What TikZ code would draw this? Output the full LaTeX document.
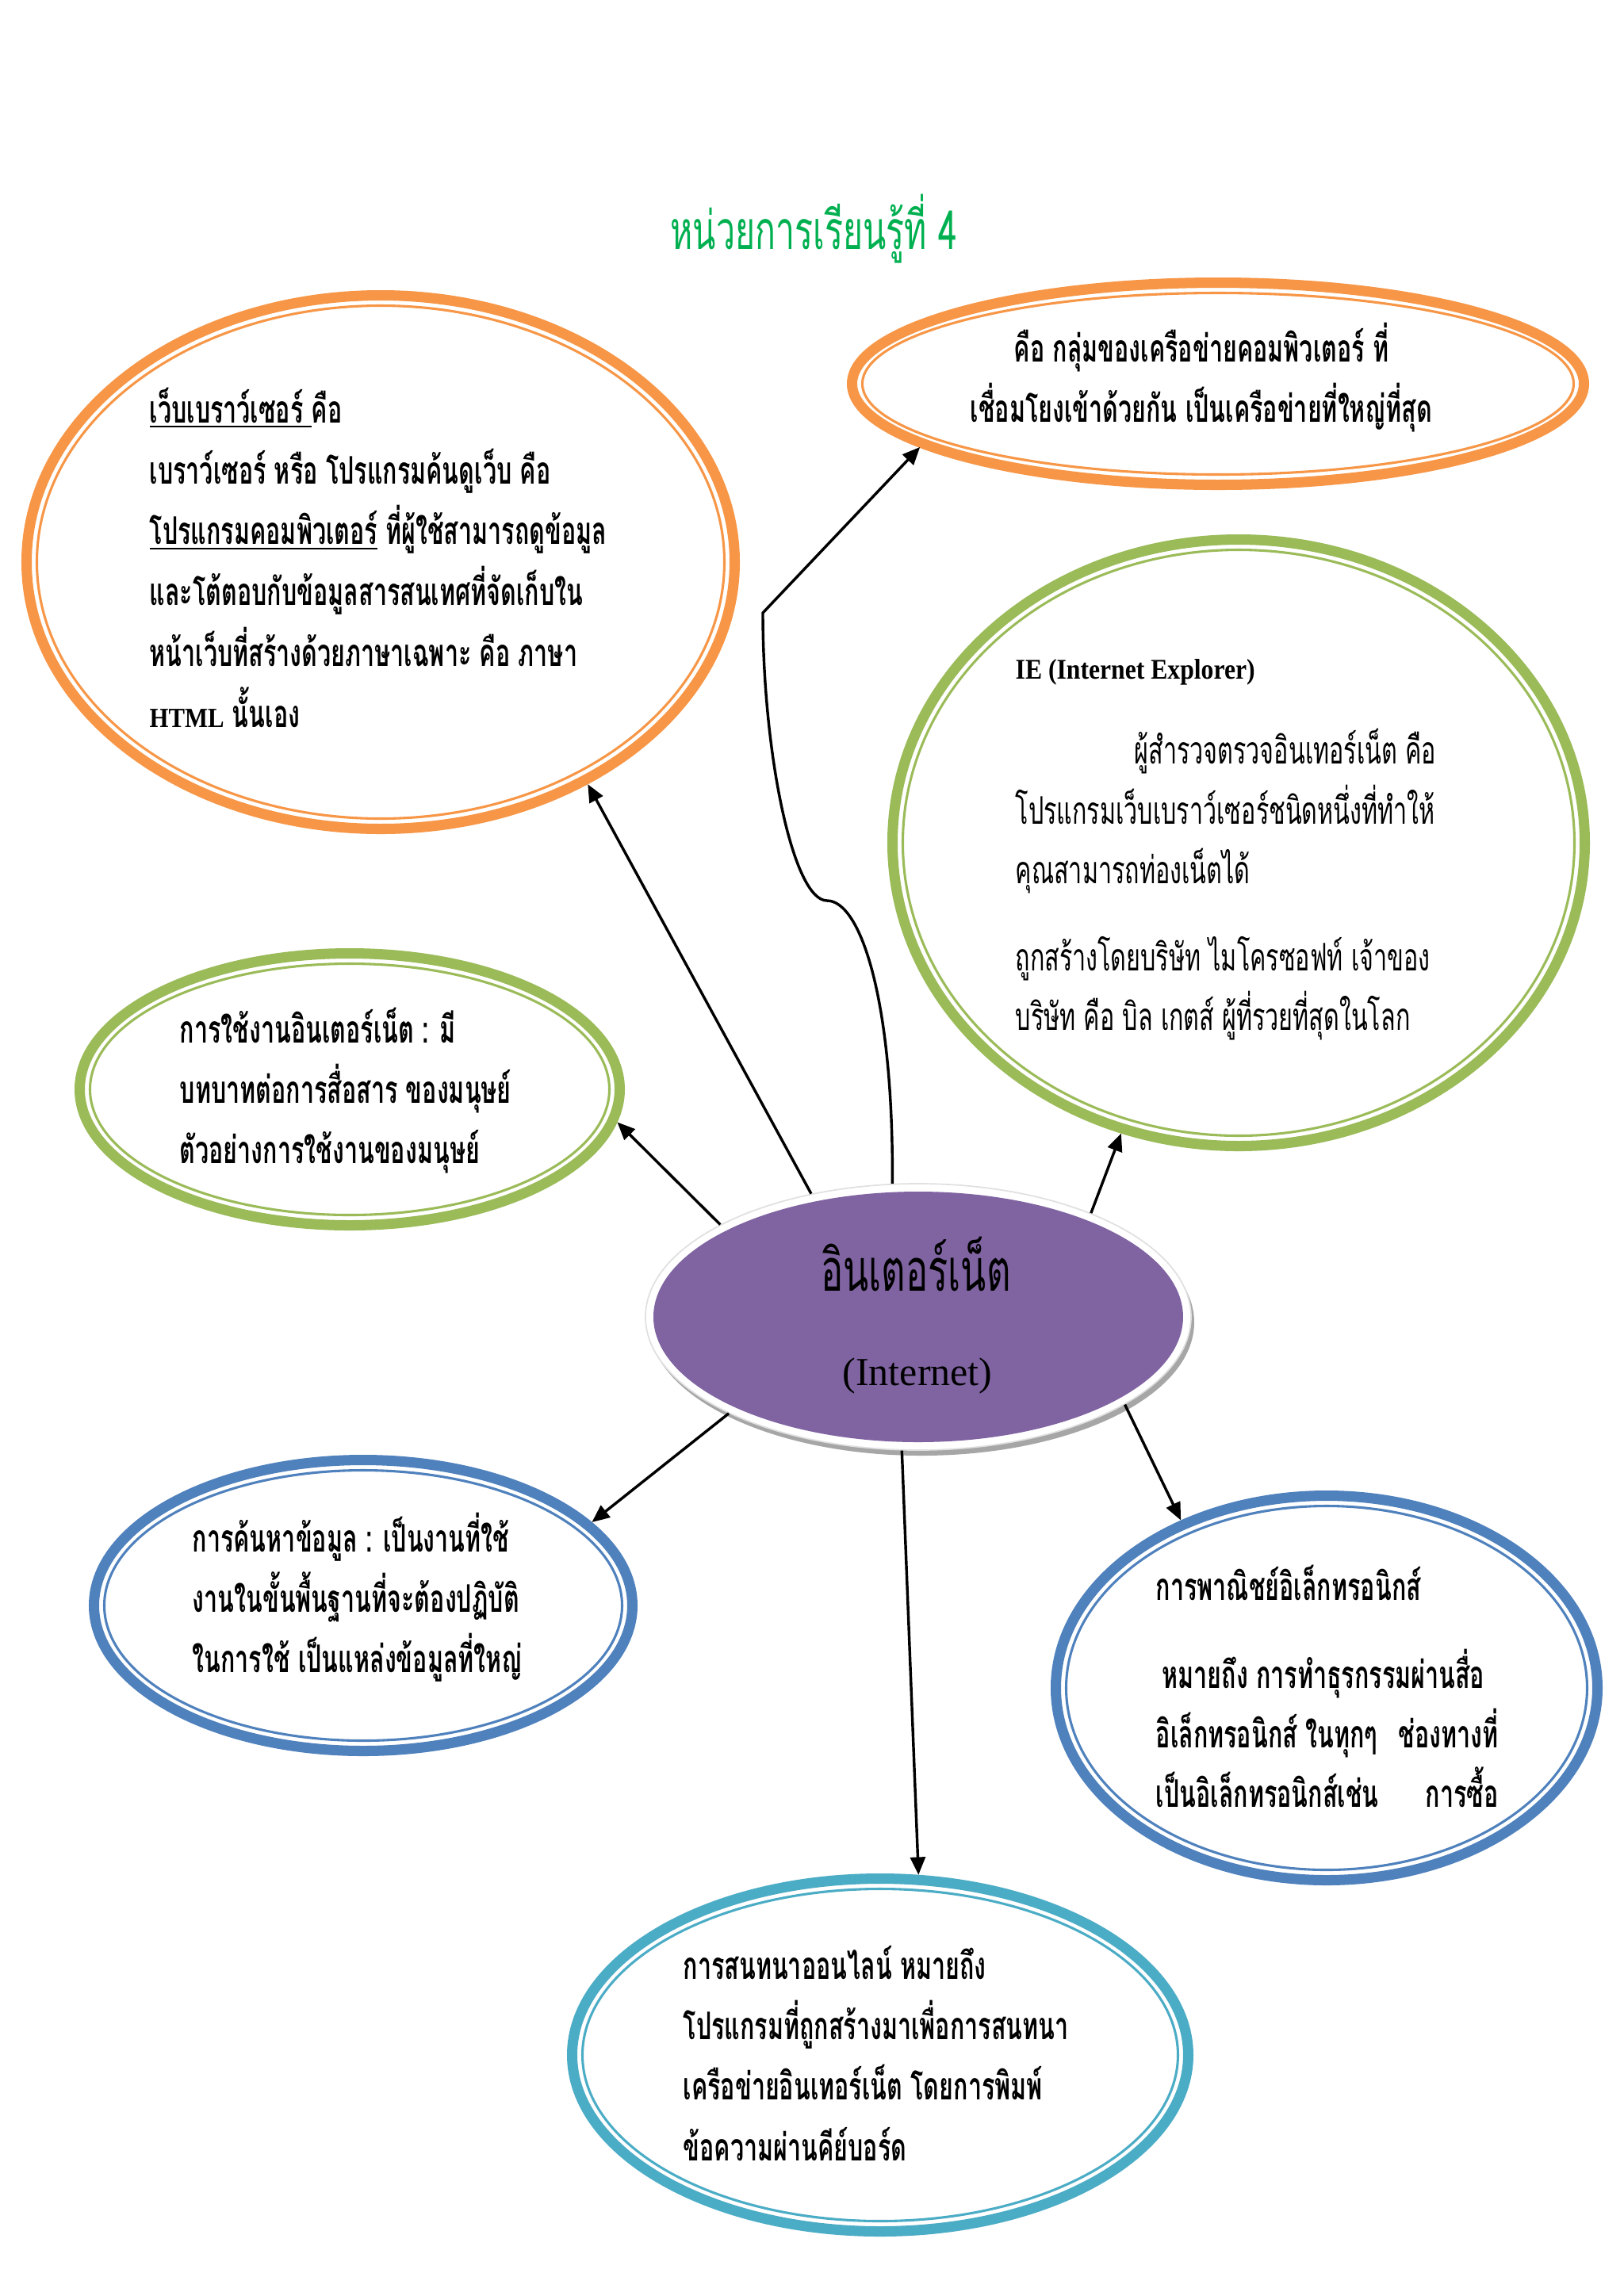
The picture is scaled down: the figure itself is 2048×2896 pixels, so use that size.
\documentclass[tikz,border=0pt]{standalone}
\usepackage{fontspec}
\usetikzlibrary{shapes.geometric,arrows.meta}
\newfontfamily\thaifont[Script=Thai,FakeStretch=0.635]{Loma}
\newfontfamily\latfont{Liberation Serif}
\newfontfamily\latcond[FakeStretch=0.88]{Liberation Serif}
\definecolor{ora}{HTML}{F79646}
\definecolor{grn}{HTML}{9BBB59}
\definecolor{blu}{HTML}{4F81BD}
\definecolor{tea}{HTML}{4BACC6}
\definecolor{purp}{HTML}{8064A2}
\definecolor{ttl}{HTML}{00B050}
\newcommand\pxu{0.010254cm}
\newcommand\Lines[2]{\vtop{\baselineskip=#1\lineskiplimit=-\maxdimen\lineskip=0pt\halign{##\hfil\cr#2\crcr}}}
\newcommand\CLines[2]{\vtop{\baselineskip=#1\lineskiplimit=-\maxdimen\lineskip=0pt\halign{\hfil##\hfil\cr#2\crcr}}}
\tikzset{
  oval/.style n args={3}{ellipse, draw=#1, line width=3.8pt, minimum width={#2*\pxu}, minimum height={#3*\pxu}, inner sep=0pt},
  thin ring/.style={line width=0.9pt},
  conn/.style={line width=1pt, -{Triangle[length=6.5pt,width=5.5pt]}},
  body/.style={font=\thaifont\bfseries\fontsize{14}{22}\selectfont, inner sep=0pt, anchor=base west},
  plain/.style={font=\thaifont\fontsize{14}{22}\selectfont, inner sep=0pt, anchor=base west},
}
\begin{document}
\begin{tikzpicture}[x=\pxu, y=-\pxu]
\useasboundingbox (0,0) rectangle (2048,2896);
\fill[white] (0,0) rectangle (2048,2896);

% title
\node[font=\thaifont\fontsize{19.7}{22}\selectfont, text=ttl, inner sep=0pt, anchor=base west] (title) at (845,314) {หน่วยการเรียนรู้ที่ 4};

% ellipses
\node[oval={ora}{893}{673}] (e1) at (480,709) {};
\draw[ora, thin ring] (e1.center) ellipse [x radius=433.5, y radius=323.5];
\node[oval={ora}{923}{255}] (e2) at (1536,484) {};
\draw[ora, thin ring] (e2.center) ellipse [x radius=448.5, y radius=114.5];
\node[oval={grn}{873}{765}] (e3) at (1562,1063) {};
\draw[grn, thin ring] (e3.center) ellipse [x radius=423.5, y radius=369.5];
\node[oval={grn}{681}{343}] (e4) at (441,1374) {};
\draw[grn, thin ring] (e4.center) ellipse [x radius=327.5, y radius=158.5];
\node[oval={blu}{679}{367}] (e6) at (458,2025) {};
\draw[blu, thin ring] (e6.center) ellipse [x radius=326.5, y radius=170.5];
\node[oval={blu}{683}{485}] (e7) at (1673,2129) {};
\draw[blu, thin ring] (e7.center) ellipse [x radius=328.5, y radius=229.5];
\node[oval={tea}{777}{445}] (e8) at (1110,2592) {};
\draw[tea, thin ring] (e8.center) ellipse [x radius=375.5, y radius=209.5];

% centre
\fill[black!35] (1162,1668) ellipse [x radius=344, y radius=168];
\node[ellipse, fill=white, draw=black!12, line width=0.5pt, minimum width={688*\pxu}, minimum height={336*\pxu}, inner sep=0pt] (c) at (1158,1661) {};
\fill[purp] (c.center) ellipse [x radius=334, y radius=158];
\node[font=\thaifont\fontsize{21.6}{24}\selectfont, inner sep=0pt, anchor=base] (cth) at (1155,1628) {อินเตอร์เน็ต};
\node[font=\latfont\fontsize{14.6}{16}\selectfont, inner sep=0pt, anchor=base] (cen) at (1157,1747) {(Internet)};

% texts
\node[body] (t1) at (188,533) {\Lines{22.46pt}{\underline{เว็บเบราว์เซอร์ }คือ\cr
เบราว์เซอร์ หรือ โปรแกรมค้นดูเว็บ คือ\cr
\underline{โปรแกรมคอมพิวเตอร์} ที่ผู้ใช้สามารถดูข้อมูล\cr
และโต้ตอบกับข้อมูลสารสนเทศที่จัดเก็บใน\cr
หน้าเว็บที่สร้างด้วยภาษาเฉพาะ คือ ภาษา\cr
{\latcond\bfseries\fontsize{10.2}{10}\selectfont HTML} นั้นเอง}};

\node[body, anchor=base] (t2) at (1515,456) {\CLines{22.2pt}{คือ กลุ่มของเครือข่ายคอมพิวเตอร์ ที่\cr
เชื่อมโยงเข้าด้วยกัน เป็นเครือข่ายที่ใหญ่ที่สุด}};

\node[plain] (t3) at (1280,856) {\Lines{21.9pt}{{\latcond\bfseries\fontsize{10.5}{12}\selectfont IE (Internet Explorer)}\cr\noalign{\vskip 9.6pt}
\kern43.8pt ผู้สำรวจตรวจอินเทอร์เน็ต คือ\cr
โปรแกรมเว็บเบราว์เซอร์ชนิดหนึ่งที่ทำให้\cr
คุณสามารถท่องเน็ตได้\cr\noalign{\vskip 10.2pt}
ถูกสร้างโดยบริษัท ไมโครซอฟท์ เจ้าของ\cr
บริษัท คือ บิล เกตส์ ผู้ที่รวยที่สุดในโลก}};

\node[body] (t4) at (226,1315) {\Lines{22.3pt}{การใช้งานอินเตอร์เน็ต : มี\cr
บทบาทต่อการสื่อสาร ของมนุษย์\cr
ตัวอย่างการใช้งานของมนุษย์}};

\node[body] (t6) at (242,1957) {\Lines{22.3pt}{การค้นหาข้อมูล : เป็นงานที่ใช้\cr
งานในขั้นพื้นฐานที่จะต้องปฏิบัติ\cr
ในการใช้ เป็นแหล่งข้อมูลที่ใหญ่}};

\node[body] (t7) at (1457,2018) {\Lines{22pt}{การพาณิชย์อิเล็กทรอนิกส์\cr\noalign{\vskip 10.4pt}
\kern2.3pt หมายถึง การทำธุรกรรมผ่านสื่อ\cr
\hbox to 126pt{อิเล็กทรอนิกส์ ในทุกๆ\hfil ช่องทางที่}\cr
\hbox to 126pt{เป็นอิเล็กทรอนิกส์เช่น\hfil การซื้อ}}};

\node[body] (t8) at (861,2496) {\Lines{22.3pt}{การสนทนาออนไลน์ หมายถึง\cr
โปรแกรมที่ถูกสร้างมาเพื่อการสนทนา\cr
เครือข่ายอินเทอร์เน็ต โดยการพิมพ์\cr
ข้อความผ่านคีย์บอร์ด}};

% connectors
\coordinate (k1) at (1043,1136);
\coordinate (k2) at (962,773);
\draw[conn] (c.131) -- (e1.313);
\draw[conn] (c.155) -- (e4.353);
\draw[conn] (c.101) .. controls (1127,1260) and (1085,1136) .. (k1) .. controls (1000,1136) and (962,950) .. (k2) -- (e2.192);
\draw[conn] (c.31) -- (e3.248);
\draw[conn] (c.207) -- (e6.20);
\draw[conn] (c.263) -- (e8.78);
\draw[conn] (c.337) -- (e7.131);
\end{tikzpicture}
\end{document}
